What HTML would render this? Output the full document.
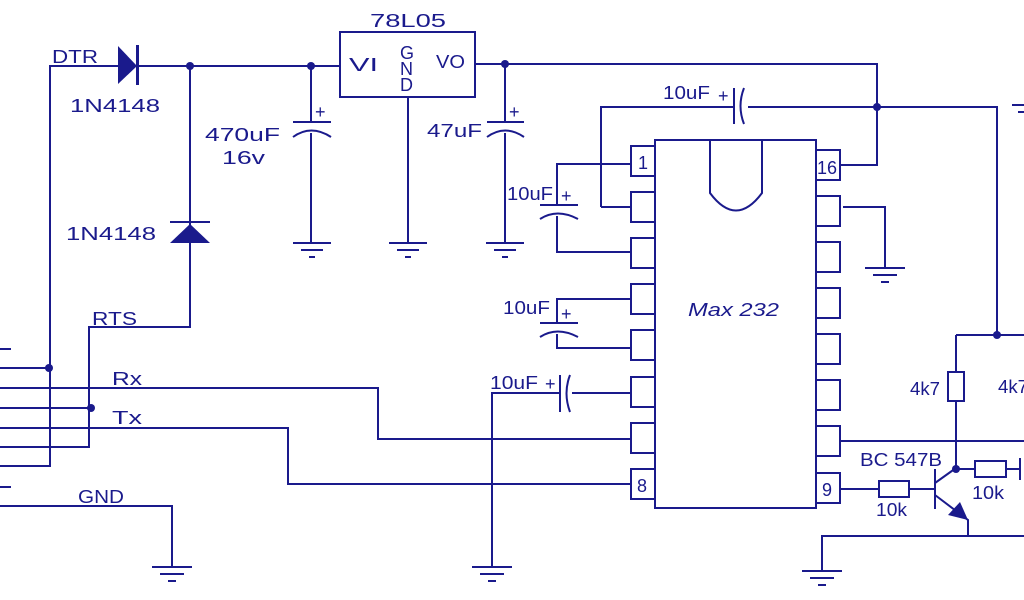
<!DOCTYPE html>
<html><head><meta charset="utf-8"><style>
html,body{margin:0;padding:0;background:#fff;width:1024px;height:600px;overflow:hidden}
svg{display:block}
text{font-family:"Liberation Sans",sans-serif;fill:#1a1a8c;font-size:18px}
</style></head><body>
<svg width="1024" height="600" viewBox="0 0 1024 600" xmlns="http://www.w3.org/2000/svg">
<g stroke="#1a1a8c" stroke-width="2" fill="none">
<path d="M0 349H11M0 368H50M0 408H90M0 447H89V327H190V66M0 466H50V66H118M0 487H11M0 506H172V567"/>
<path d="M0 388H378V439H631M0 428H288V484H631"/>
<path d="M138 66H340M190 66V222"/>
<rect x="340" y="32" width="135" height="65"/>
<path d="M408 97V243M475 64H877V165H840"/>
<path d="M311 66V122M293 122H331M311 133V243M293 137Q311 124 331 137"/>
<path d="M505 64V122M487 122H524M505 133V243M487 137Q505 124 524 137"/>
<path d="M293 243H331M301 250H323M309 257H315"/>
<path d="M389 243H427M397 250H419M405 257H411"/>
<path d="M486 243H524M494 250H516M502 257H508"/>
<path d="M152 567H192M160 574H184M168 581H176"/>
<path d="M472 567H512M480 574H504M488 581H496"/>
<path d="M865 268H905M873 275H897M881 282H889"/>
<path d="M802 571H842M810 578H834M818 585H826"/>
<path d="M1012 105H1024M1018 112H1024"/>
<path d="M601 207V107H734M748 107H997V335M877 107V165M734 88V124M744 88Q737 106 744 124"/>
<rect x="655" y="140" width="161" height="368"/>
<path d="M710 140V193Q736 228 762 193V140"/>
<g>
<rect x="631" y="146" width="24" height="30"/><rect x="631" y="192" width="24" height="30"/>
<rect x="631" y="238" width="24" height="30"/><rect x="631" y="284" width="24" height="30"/>
<rect x="631" y="330" width="24" height="30"/><rect x="631" y="377" width="24" height="30"/>
<rect x="631" y="423" width="24" height="30"/><rect x="631" y="469" width="24" height="30"/>
<rect x="816" y="150" width="24" height="30"/><rect x="816" y="196" width="24" height="30"/>
<rect x="816" y="242" width="24" height="30"/><rect x="816" y="288" width="24" height="30"/>
<rect x="816" y="334" width="24" height="30"/><rect x="816" y="380" width="24" height="30"/>
<rect x="816" y="426" width="24" height="30"/><rect x="816" y="473" width="24" height="30"/>
</g>
<path d="M601 207H631M843 207H885V268"/>
<path d="M631 164H557V205M540 205H578M557 216V252H631M540 219Q557 208 578 219"/>
<path d="M631 299H557V323M540 323H578M557 334V348H631M540 337Q557 326 578 337"/>
<path d="M631 393H572M560 375V412M570 375Q563 393 570 412M560 393H492V567"/>
<path d="M840 441H1024M956 335H1024M956 335V372M956 401V469M948 372H964V401H948Z"/>
<path d="M840 489H879M909 489H935M879 481H909V497H879Z"/>
<path d="M935 469V509M935 483L956 468M935 495L968 520V536M822 571V536H1024"/>
<path d="M956 469H975M975 461H1006V477H975ZM1006 469H1020M1020 458V480"/>
</g>
<g fill="#1a1a8c">
<path d="M118 46L137 66L118 84Z"/><rect x="136" y="45" width="3" height="40"/>
<path d="M170 243L190 224L210 243Z"/><rect x="170" y="221" width="40" height="2"/>
<circle cx="190" cy="66" r="4"/><circle cx="311" cy="66" r="4"/><circle cx="505" cy="64" r="4"/>
<circle cx="877" cy="107" r="4"/><circle cx="997" cy="335" r="4"/><circle cx="956" cy="469" r="4"/>
<circle cx="49" cy="368" r="4"/><circle cx="91" cy="408" r="4"/>
<path d="M968 520L948 515L960 502Z"/>
</g>
<g lengthAdjust="spacingAndGlyphs">
<text x="52" y="63" textLength="46" lengthAdjust="spacingAndGlyphs">DTR</text>
<text x="70" y="112" textLength="90" lengthAdjust="spacingAndGlyphs">1N4148</text>
<text x="66" y="240" textLength="90" lengthAdjust="spacingAndGlyphs">1N4148</text>
<text x="370" y="27" textLength="76" lengthAdjust="spacingAndGlyphs">78L05</text>
<text x="349" y="71" textLength="29" lengthAdjust="spacingAndGlyphs">VI</text>
<text x="436" y="68" textLength="29" lengthAdjust="spacingAndGlyphs">VO</text>
<text x="400" y="59" font-size="16">G</text>
<text x="400" y="75" font-size="16">N</text>
<text x="400" y="91" font-size="16">D</text>
<text x="315" y="118" font-size="14">+</text>
<text x="205" y="141" textLength="75" lengthAdjust="spacingAndGlyphs">470uF</text>
<text x="222" y="164" textLength="43" lengthAdjust="spacingAndGlyphs">16v</text>
<text x="509" y="118" font-size="14">+</text>
<text x="427" y="137" textLength="55" lengthAdjust="spacingAndGlyphs">47uF</text>
<text x="663" y="99" textLength="47" lengthAdjust="spacingAndGlyphs">10uF</text>
<text x="718" y="102" font-size="14">+</text>
<text x="507" y="200" textLength="46" lengthAdjust="spacingAndGlyphs">10uF</text>
<text x="561" y="202" font-size="14">+</text>
<text x="503" y="314" textLength="47" lengthAdjust="spacingAndGlyphs">10uF</text>
<text x="561" y="320" font-size="14">+</text>
<text x="490" y="389" textLength="48" lengthAdjust="spacingAndGlyphs">10uF</text>
<text x="545" y="390" font-size="14">+</text>
<text x="638" y="169" font-size="16">1</text>
<text x="817" y="174" font-size="16">16</text>
<text x="637" y="492" font-size="16">8</text>
<text x="822" y="496" font-size="16">9</text>
<text x="688" y="316" font-style="italic" textLength="91" lengthAdjust="spacingAndGlyphs">Max 232</text>
<text x="92" y="325" textLength="45" lengthAdjust="spacingAndGlyphs">RTS</text>
<text x="112" y="385" textLength="30" lengthAdjust="spacingAndGlyphs">Rx</text>
<text x="112" y="424" textLength="30" lengthAdjust="spacingAndGlyphs">Tx</text>
<text x="78" y="503" textLength="46" lengthAdjust="spacingAndGlyphs">GND</text>
<text x="910" y="395" textLength="30" lengthAdjust="spacingAndGlyphs">4k7</text>
<text x="998" y="393" textLength="30" lengthAdjust="spacingAndGlyphs">4k7</text>
<text x="860" y="466" textLength="82" lengthAdjust="spacingAndGlyphs">BC 547B</text>
<text x="876" y="516" textLength="31" lengthAdjust="spacingAndGlyphs">10k</text>
<text x="972" y="499" textLength="32" lengthAdjust="spacingAndGlyphs">10k</text>
</g>
</svg>
</body></html>
